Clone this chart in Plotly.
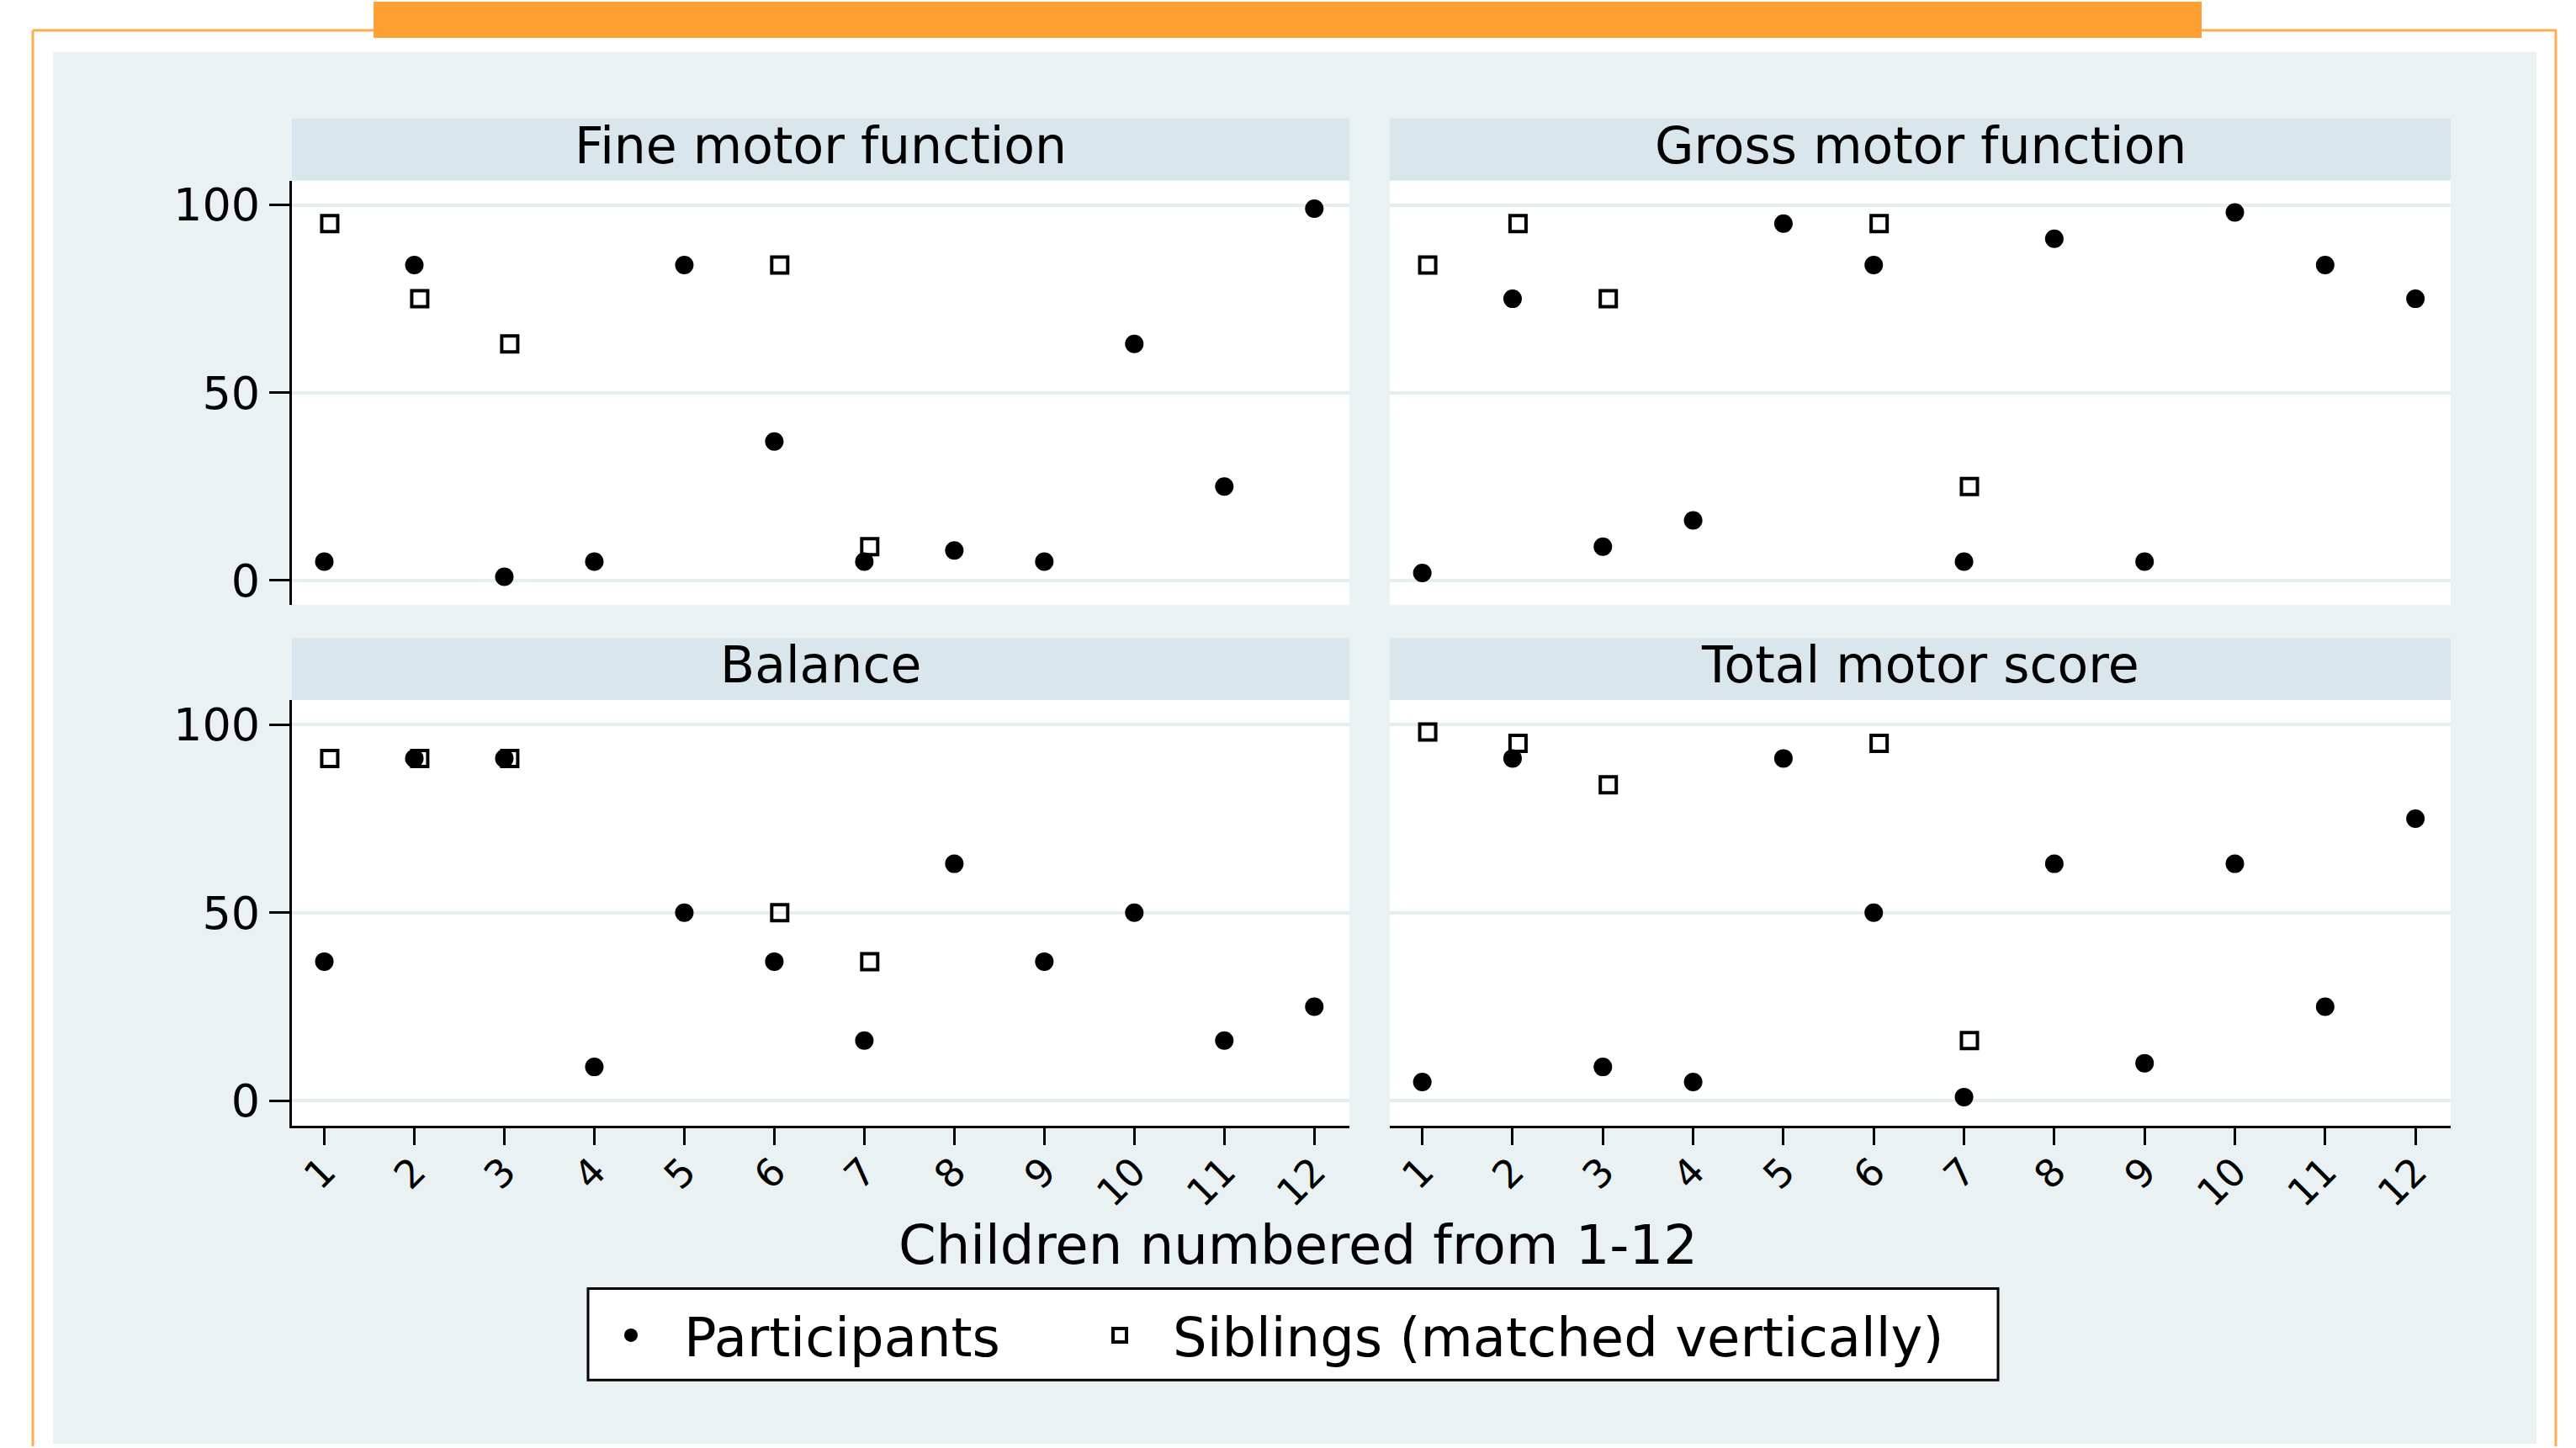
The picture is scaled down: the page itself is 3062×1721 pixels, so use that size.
import plotly.graph_objects as go

# ---------------- data ----------------
children = list(range(1, 13))
child_labels = [str(c) for c in children]
sibling_children = [1, 2, 3, 6, 7]

panel_titles = ["Fine motor function", "Gross motor function", "Balance", "Total motor score"]
x_title = "Children numbered from 1-12"
series_names = ["Participants", "Siblings (matched vertically)"]

fine_participants = [5, 84, 1, 5, 84, 37, 5, 8, 5, 63, 25, 99]
fine_siblings = [95, 75, 63, 84, 9]

gross_participants = [2, 75, 9, 16, 95, 84, 5, 91, 5, 98, 84, 75]
gross_siblings = [84, 95, 75, 95, 25]

balance_participants = [37, 91, 91, 9, 50, 37, 16, 63, 37, 50, 16, 25]
balance_siblings = [91, 91, 91, 50, 37]

total_participants = [5, 91, 9, 5, 91, 50, 1, 63, 10, 63, 25, 75]
total_siblings = [98, 95, 84, 95, 16]

y_ticks = [0, 50, 100]

# ---------------- layout geometry ----------------
W, H = 3062, 1721
FONT = "DejaVu Sans"

def px_x(p):
    return p / W

def px_y(p):
    return 1 - p / H

xL = [px_x(347), px_x(1604)]
xR = [px_x(1652), px_x(2913)]
yT = [px_y(719), px_y(213)]
yB = [px_y(1339), px_y(832)]
stripT = [px_y(213), px_y(139)]
stripB = [px_y(832), px_y(758)]

SIB_OFFSET = 0.06

panels = [
    (fine_participants, fine_siblings, "x", "y"),
    (gross_participants, gross_siblings, "x2", "y2"),
    (balance_participants, balance_siblings, "x3", "y3"),
    (total_participants, total_siblings, "x4", "y4"),
]

fig = go.Figure()
for i, (part, sib, xa, ya) in enumerate(panels):
    fig.add_trace(go.Scatter(
        x=children, y=part, xaxis=xa, yaxis=ya, mode="markers",
        name=series_names[0], legendgroup="p", showlegend=(i == 0), legend="legend",
        marker=dict(symbol="circle", color="black", size=22),
        cliponaxis=False,
    ))
    fig.add_trace(go.Scatter(
        x=[c + SIB_OFFSET for c in sibling_children], y=sib, xaxis=xa, yaxis=ya,
        mode="markers", name=series_names[1], legendgroup="s",
        showlegend=(i == 0), legend="legend2",
        marker=dict(symbol="square-open", color="black", size=19,
                    line=dict(width=4, color="black")),
        cliponaxis=False,
    ))

XRANGE = [0.64, 12.39]
YRANGE = [-6.6, 106.5]
GRID = "#e6eef0"

def xaxis(domain, anchor, bottom):
    d = dict(domain=domain, anchor=anchor, range=XRANGE, showgrid=False,
             zeroline=False, tickmode="array", tickvals=children, ticktext=child_labels)
    if bottom:
        d.update(showline=True, linecolor="black", linewidth=3, ticks="outside",
                 ticklen=20, tickwidth=3, tickcolor="black", tickangle=-45,
                 ticklabelstandoff=-14,
                 tickfont=dict(family=FONT, size=46, color="black"))
    else:
        d.update(showline=False, ticks="", showticklabels=False)
    return d

def yaxis(domain, anchor, left):
    d = dict(domain=domain, anchor=anchor, range=YRANGE, tickmode="array",
             tickvals=y_ticks, showgrid=True, gridcolor=GRID, gridwidth=4,
             zeroline=False)
    if left:
        d.update(showline=True, linecolor="black", linewidth=3, ticks="outside",
                 ticklen=24, tickwidth=3, tickcolor="black",
                 tickfont=dict(family=FONT, size=54, color="black"))
    else:
        d.update(showline=False, ticks="", showticklabels=False)
    return d

shapes = []
# slide light background
shapes.append(dict(type="rect", xref="paper", yref="paper", x0=px_x(63), x1=px_x(3015),
                   y0=px_y(1718), y1=px_y(60), fillcolor="#e9f1f3", line=dict(width=0), layer="below"))
# plot areas & strips
for xd, yd, sd in [(xL, yT, stripT), (xR, yT, stripT), (xL, yB, stripB), (xR, yB, stripB)]:
    shapes.append(dict(type="rect", xref="paper", yref="paper", x0=xd[0], x1=xd[1],
                       y0=yd[0], y1=yd[1], fillcolor="white", line=dict(width=0), layer="below"))
    shapes.append(dict(type="rect", xref="paper", yref="paper", x0=xd[0], x1=xd[1],
                       y0=sd[0], y1=sd[1], fillcolor="#d9e6eb", line=dict(width=0), layer="below"))
# legend box
shapes.append(dict(type="rect", xref="paper", yref="paper", x0=px_x(699), x1=px_x(2375),
                   y0=px_y(1642), y1=px_y(1533), fillcolor="white",
                   line=dict(color="black", width=3), layer="below"))
# orange header bar
shapes.append(dict(type="rect", xref="paper", yref="paper", x0=px_x(444), x1=px_x(2617),
                   y0=px_y(43), y1=1.0, fillcolor="#ffa132", line=dict(width=0), layer="below"))
# orange frame lines
ORANGE = "#ffab4f"
for (xa0, ya0, xa1, ya1) in [(39, 34, 444, 34), (2617, 34, 3039, 34),
                             (39, 34, 39, 1721), (3038, 34, 3038, 1721)]:
    shapes.append(dict(type="line", xref="paper", yref="paper", x0=px_x(xa0), x1=px_x(xa1),
                       y0=px_y(ya0), y1=px_y(ya1), line=dict(color=ORANGE, width=3), layer="below"))

annotations = []
TITLE_LIFT = 5 / H
for title, xd, sd in [(panel_titles[0], xL, stripT), (panel_titles[1], xR, stripT),
                      (panel_titles[2], xL, stripB), (panel_titles[3], xR, stripB)]:
    annotations.append(dict(text=title, xref="paper", yref="paper",
                            x=(xd[0] + xd[1]) / 2, y=(sd[0] + sd[1]) / 2 + TITLE_LIFT,
                            xanchor="center", yanchor="middle", showarrow=False,
                            font=dict(family=FONT, size=60, color="black")))
annotations.append(dict(text=x_title, xref="paper", yref="paper",
                        x=px_x(1543), y=px_y(1481), xanchor="center", yanchor="middle",
                        showarrow=False, font=dict(family=FONT, size=64, color="black")))

LEG_FONT = dict(family=FONT, size=64, color="black")
ITEM_W = 116
fig.update_layout(
    width=W, height=H,
    margin=dict(l=0, r=0, t=0, b=0),
    paper_bgcolor="white", plot_bgcolor="white",
    font=dict(family=FONT, color="black"),
    xaxis=xaxis(xL, "y", False),
    yaxis=yaxis(yT, "x", True),
    xaxis2=xaxis(xR, "y2", False),
    yaxis2=yaxis(yT, "x2", False),
    xaxis3=xaxis(xL, "y3", True),
    yaxis3=yaxis(yB, "x3", True),
    xaxis4=xaxis(xR, "y4", True),
    yaxis4=yaxis(yB, "x4", False),
    shapes=shapes,
    annotations=annotations,
    showlegend=True,
    legend=dict(orientation="h", x=px_x(750 - 63), y=px_y(1589), xanchor="left", yanchor="middle",
                bgcolor="rgba(0,0,0,0)", borderwidth=0, font=LEG_FONT, itemwidth=ITEM_W),
    legend2=dict(orientation="h", x=px_x(1331 - 63), y=px_y(1589), xanchor="left", yanchor="middle",
                 bgcolor="rgba(0,0,0,0)", borderwidth=0, font=LEG_FONT, itemwidth=ITEM_W),
)

fig.write_html("out.html", config={"displayModeBar": False},
               post_script="document.body.style.margin='0px';document.body.style.overflow='hidden';")
